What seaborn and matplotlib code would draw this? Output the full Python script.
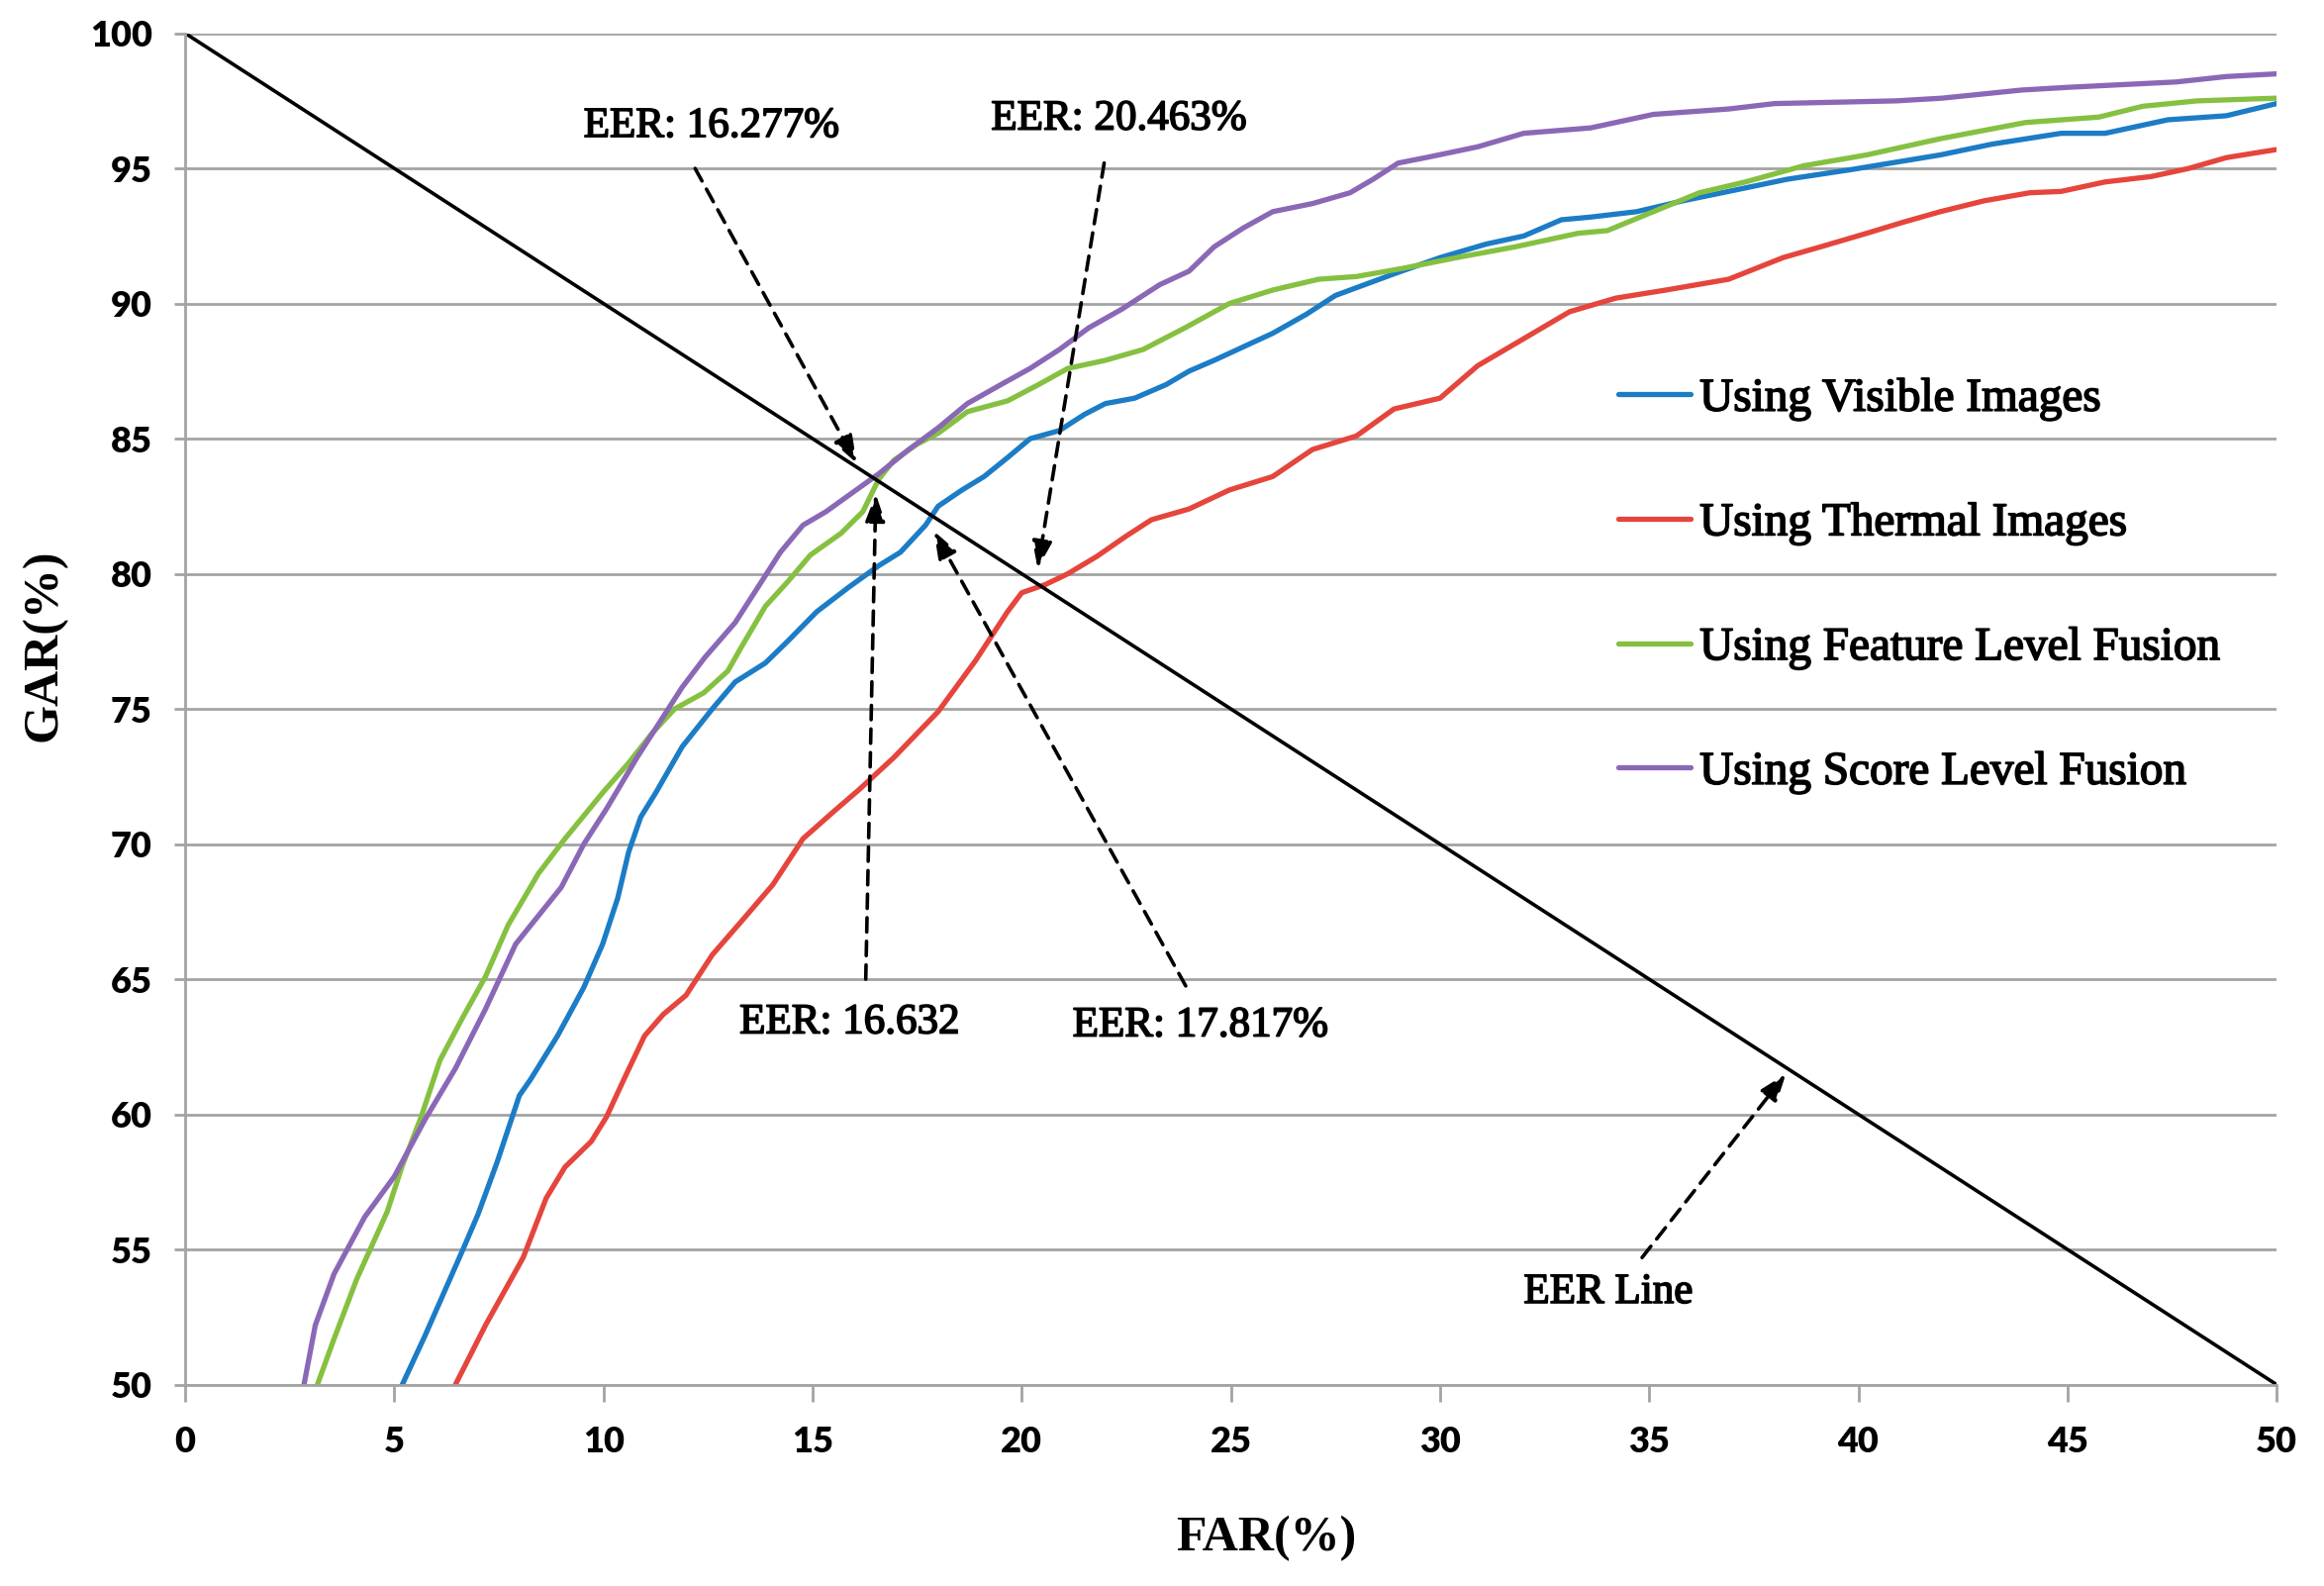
import numpy as np
import pandas as pd
import seaborn as sns
import matplotlib.pyplot as plt
import matplotlib.patheffects as pe

# FAR / GAR points
visible_far = [5.19, 5.73, 6.64, 7.0, 7.45, 7.99, 8.26, 8.9, 9.53, 9.98, 10.34, 10.6, 10.89,
               11.25, 11.88, 12.6, 13.15, 13.87, 14.4, 15.1, 15.86, 16.58, 17.1, 17.7, 18.0,
               18.57, 19.1, 19.66, 20.2, 20.9, 21.5, 22.0, 22.7, 23.45, 24.0, 24.6, 25.3,
               26.0, 26.8, 27.5, 28.2, 28.9, 30.0, 31.1, 32.0, 32.9, 33.6, 34.7, 35.8, 36.9,
               38.3, 39.8, 41.96, 43.2, 44.85, 45.9, 47.4, 48.8, 50.0]
visible_gar = [50.0, 51.8, 55.0, 56.3, 58.2, 60.7, 61.3, 62.9, 64.7, 66.3, 68.0, 69.7, 71.0,
               71.9, 73.6, 75.0, 76.0, 76.7, 77.5, 78.6, 79.5, 80.3, 80.8, 81.8, 82.5,
               83.1, 83.6, 84.3, 85.0, 85.3, 85.9, 86.3, 86.5, 87.0, 87.5, 87.9, 88.4,
               88.9, 89.6, 90.3, 90.7, 91.1, 91.7, 92.2, 92.5, 93.1, 93.2, 93.4, 93.8, 94.15,
               94.6, 94.95, 95.5, 95.9, 96.3, 96.3, 96.8, 96.95, 97.4]

thermal_far = [6.46, 7.18, 8.08, 8.63, 9.08, 9.71, 10.07, 10.52, 10.98, 11.43, 11.97, 12.6,
               13.33, 14.05, 14.77, 15.5, 16.1, 16.94, 18.0, 18.9, 19.66, 20.0, 20.56, 21.1,
               21.8, 22.5, 23.1, 24.0, 24.96, 26.0, 26.95, 28.0, 28.9, 30.0, 30.9, 32.0,
               33.1, 34.2, 35.4, 36.9, 38.2, 39.1, 40.2, 41.05, 41.96, 43.0, 44.1, 44.85,
               45.9, 47.0, 47.9, 48.8, 50.0]
thermal_gar = [50.0, 52.2, 54.7, 56.9, 58.05, 59.0, 59.9, 61.4, 62.9, 63.7, 64.4, 65.9,
               67.2, 68.5, 70.2, 71.2, 72.0, 73.2, 74.9, 76.8, 78.6, 79.3, 79.6, 80.0,
               80.65, 81.4, 82.0, 82.4, 83.1, 83.6, 84.6, 85.1, 86.1, 86.5, 87.7, 88.7,
               89.7, 90.2, 90.5, 90.9, 91.7, 92.1, 92.6, 93.0, 93.4, 93.8, 94.1, 94.15,
               94.5, 94.7, 95.0, 95.4, 95.7]

feature_far = [3.16, 3.56, 4.1, 4.83, 5.19, 5.64, 6.09, 6.64, 7.18, 7.72, 8.44, 9.08, 9.98,
               10.6, 11.16, 11.7, 12.4, 12.97, 13.3, 13.87, 14.4, 14.95, 15.68, 16.2, 16.58,
               16.94, 17.5, 18.0, 18.7, 19.66, 20.4, 21.1, 22.0, 22.9, 23.9, 24.96, 26.0,
               27.1, 28.0, 29.1, 30.4, 31.8, 33.3, 34.0, 35.1, 36.2, 37.3, 38.7, 40.2,
               41.96, 44.0, 45.75, 46.8, 48.1, 50.0]
feature_gar = [50.0, 51.7, 53.9, 56.4, 58.1, 59.9, 62.0, 63.6, 65.1, 67.0, 68.9, 70.2, 71.9,
               73.0, 74.1, 75.0, 75.6, 76.4, 77.3, 78.8, 79.7, 80.7, 81.5, 82.3, 83.5,
               84.2, 84.8, 85.2, 86.0, 86.4, 87.0, 87.6, 87.9, 88.3, 89.1, 90.0, 90.5,
               90.9, 91.0, 91.3, 91.7, 92.1, 92.6, 92.7, 93.4, 94.1, 94.5, 95.1, 95.5,
               96.1, 96.7, 96.9, 97.3, 97.5, 97.6]

score_far = [2.84, 3.11, 3.56, 4.29, 5.0, 5.73, 6.46, 7.18, 7.9, 8.99, 9.53, 10.07, 10.8,
             11.34, 11.88, 12.42, 13.15, 13.69, 14.23, 14.77, 15.32, 16.04, 16.58, 17.3,
             18.0, 18.7, 19.5, 20.2, 20.9, 21.6, 22.4, 23.3, 24.0, 24.6, 25.3, 26.0, 26.95,
             27.85, 28.4, 29.0, 29.66, 30.9, 32.0, 33.6, 35.1, 36.9, 38.0, 40.9, 42.0,
             43.9, 45.0, 47.6, 48.8, 50.0]
score_gar = [50.0, 52.2, 54.1, 56.2, 57.7, 59.8, 61.7, 63.9, 66.3, 68.4, 70.0, 71.3, 73.2,
             74.5, 75.8, 76.9, 78.2, 79.5, 80.8, 81.8, 82.3, 83.1, 83.7, 84.6,
             85.4, 86.3, 87.0, 87.6, 88.3, 89.1, 89.8, 90.7, 91.2, 92.1, 92.8, 93.4, 93.7,
             94.1, 94.6, 95.2, 95.4, 95.8, 96.3, 96.5, 97.0, 97.2, 97.4, 97.5, 97.6,
             97.9, 98.0, 98.2, 98.4, 98.5]

series_names = ["Using Visible Images", "Using Thermal Images",
                "Using Feature Level Fusion", "Using Score Level Fusion"]
series_colors = ["#1c7cc6", "#e5453c", "#86c041", "#8a68b6"]

eer_line_far = [0, 50]
eer_line_gar = [100, 50]

# annotation text, text position, arrow tail, arrow head (data units)
eer_labels = ["EER: 16.277%", "EER: 20.463%", "EER: 16.632", "EER: 17.817%", "EER Line"]
eer_text_xy = [(12.58, 96.55), (22.32, 96.82), (15.88, 63.38), (24.27, 63.27), (34.02, 53.4)]
eer_tail_xy = [(12.19, 95.0), (21.97, 95.2), (16.27, 65.0), (23.92, 64.75), (34.83, 54.7)]
eer_head_xy = [(16.05, 84.1), (20.38, 80.2), (16.51, 82.95), (17.9, 81.58), (38.27, 61.5)]

serif = ["Liberation Serif", "DejaVu Serif"]
heavier = [pe.withStroke(linewidth=0.6, foreground="black")]

sns.set_theme(style="white")
plt.rcParams["font.family"] = ["Lato", "DejaVu Sans"]
plt.rcParams["text.color"] = "black"
plt.rcParams["axes.labelcolor"] = "black"

frames = []
for name, far, gar in zip(series_names,
                          [visible_far, thermal_far, feature_far, score_far],
                          [visible_gar, thermal_gar, feature_gar, score_gar]):
    frames.append(pd.DataFrame({"FAR": far, "GAR": gar, "Method": name}))
curves = pd.concat(frames, ignore_index=True)

fig, ax = plt.subplots(figsize=(11.74, 8.01), dpi=200)
fig.subplots_adjust(left=0.0797, right=0.9796, top=0.979, bottom=0.127)

ax.yaxis.grid(True, color="#a3a3a3", linewidth=1.0)
ax.set_axisbelow(True)

sns.lineplot(data=curves, x="FAR", y="GAR", hue="Method", hue_order=series_names,
             palette=dict(zip(series_names, series_colors)), linewidth=1.9,
             sort=False, ax=ax)
for line in ax.get_lines():
    line.set_solid_joinstyle("round")

ax.plot(eer_line_far, eer_line_gar, color="black", linewidth=1.3)

for label, txy, tail, head in zip(eer_labels, eer_text_xy, eer_tail_xy, eer_head_xy):
    ax.text(txy[0], txy[1], label, ha="center", va="center", fontsize=15.5,
            family=serif, color="black", path_effects=heavier)
    ax.annotate("", xy=head, xytext=tail,
                arrowprops=dict(arrowstyle="-|>,head_length=0.55,head_width=0.2",
                                linestyle=(0, (4, 2.6)), linewidth=1.3, color="black",
                                shrinkA=0, shrinkB=0, mutation_scale=15))

ax.set_xlim(0, 50)
ax.set_ylim(50, 100)
ax.set_xticks(np.arange(0, 51, 5))
ax.set_yticks(np.arange(50, 101, 5))

for side in ["top", "right"]:
    ax.spines[side].set_visible(False)
for side in ["left", "bottom"]:
    ax.spines[side].set_color("#a3a3a3")
    ax.spines[side].set_linewidth(1.0)

ax.tick_params(axis="x", length=6, width=1.0, color="#a3a3a3", pad=9,
               labelsize=13, labelcolor="black", bottom=True)
ax.tick_params(axis="y", length=4, width=1.0, color="#a3a3a3", pad=8,
               labelsize=13, labelcolor="black", left=True)
for lab in ax.get_xticklabels() + ax.get_yticklabels():
    lab.set_fontweight("heavy")

ax.set_xlabel("FAR(%)", fontsize=18, fontweight="bold", family=serif, va="center",
              color="black")
ax.set_ylabel("GAR(%)", fontsize=18, fontweight="bold", family=serif, va="center",
              color="black")
ax.xaxis.set_label_coords(0.517, -0.114)
ax.yaxis.set_label_coords(-0.0673, 0.547)

leg = ax.legend(loc="upper left", bbox_to_anchor=(0.685, 0.745), frameon=False,
                prop={"family": serif, "size": 17}, handlelength=1.55, handletextpad=0.2,
                labelspacing=1.75, borderpad=0, borderaxespad=0)
for txt in leg.get_texts():
    txt.set_color("black")
    txt.set_path_effects(heavier)
for handle in leg.get_lines():
    handle.set_linewidth(1.9)

fig.savefig("out.png", dpi=200)
